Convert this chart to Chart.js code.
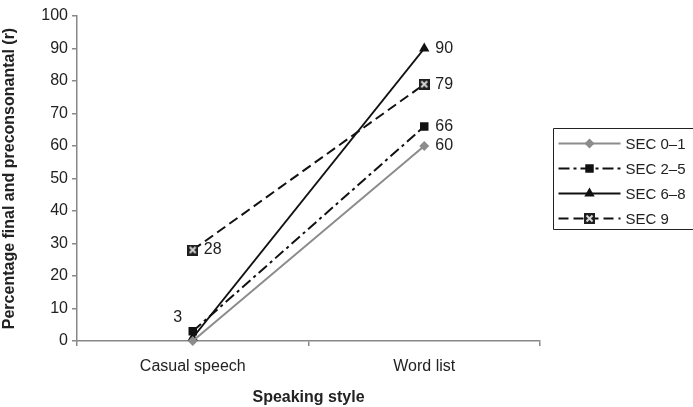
<!DOCTYPE html>
<html>
<head>
<meta charset="utf-8">
<script src="https://cdn.jsdelivr.net/npm/chart.js@4"></script>
<style>
  html, body { margin: 0; padding: 0; background: #fff; }
  #wrap { width: 693px; height: 407px; }
</style>
</head>
<body>
<div id="wrap"><canvas id="chart" width="693" height="407"></canvas></div>
<script>
// categories and series
const styles = ["Casual speech", "Word list"];
const seriesNames = ["SEC 0\u20131", "SEC 2\u20135", "SEC 6\u20138", "SEC 9"];
const sec01 = [0, 60];
const sec25 = [3, 66];
const sec68 = [1, 90];
const sec9 = [28, 79];
const yTicks = [0, 10, 20, 30, 40, 50, 60, 70, 80, 90, 100];

// which points carry a value label: [dataset, index, placement]
const valueLabels = [
  [1, 0, "left"], [3, 0, "right"],
  [0, 1, "right"], [1, 1, "right"], [2, 1, "right"], [3, 1, "right"]
];

const FONT = "'Liberation Sans', Arial, sans-serif";

// boxed-cross marker for SEC 9
function crossBox() {
  const c = document.createElement("canvas");
  c.width = 11; c.height = 11;
  const g = c.getContext("2d");
  g.fillStyle = "#1e1e1e";
  g.fillRect(0, 0, 11, 11);
  g.strokeStyle = "#d8d8d8";
  g.lineWidth = 2;
  g.beginPath();
  g.moveTo(2.5, 2.5); g.lineTo(8.5, 8.5);
  g.moveTo(8.5, 2.5); g.lineTo(2.5, 8.5);
  g.stroke();
  return c;
}
const crossImg = crossBox();

const datasets = [
  { label: seriesNames[0], data: sec01, borderColor: "#8c8c8c", backgroundColor: "#8c8c8c",
    borderWidth: 2, pointStyle: "rectRot", pointRadius: 5, borderDash: [] },
  { label: seriesNames[1], data: sec25, borderColor: "#111", backgroundColor: "#111",
    borderWidth: 2, pointStyle: "rect", pointRadius: 6, borderDash: [11, 4, 3, 4] },
  { label: seriesNames[2], data: sec68, borderColor: "#111", backgroundColor: "#111",
    borderWidth: 2, pointStyle: "triangle", pointRadius: 6, borderDash: [] },
  { label: seriesNames[3], data: sec9, borderColor: "#111", backgroundColor: "#111",
    borderWidth: 2, pointStyle: crossImg, pointRadius: 6, borderDash: [10, 5] }
];
datasets.forEach(d => { d.pointBorderWidth = 0; d.tension = 0; d.clip = false; });

// numbers beside the points
const labelPlugin = {
  id: "valueLabels",
  afterDatasetsDraw(chart) {
    const ctx = chart.ctx;
    ctx.save();
    ctx.font = "16px " + FONT;
    ctx.fillStyle = "#222";
    ctx.textBaseline = "middle";
    valueLabels.forEach(([di, pi, place]) => {
      const pt = chart.getDatasetMeta(di).data[pi];
      const v = chart.data.datasets[di].data[pi];
      if (place === "left") {
        ctx.textAlign = "center";
        ctx.fillText(String(v), pt.x - 15, pt.y - 14);
      } else {
        ctx.textAlign = "left";
        ctx.fillText(String(v), pt.x + 11, pt.y);
      }
    });
    ctx.restore();
  }
};

// legend frame runs off the right edge, so only three sides are drawn
const legendPlugin = {
  id: "boxLegend",
  afterDraw(chart) {
    const ctx = chart.ctx;
    const left = chart.chartArea.right + 13.5;
    const top = 128.5;
    const bottom = top + 101;
    const right = chart.width + 5;
    ctx.save();
    ctx.strokeStyle = "#222";
    ctx.lineWidth = 1;
    ctx.beginPath();
    ctx.moveTo(right, top);
    ctx.lineTo(left, top);
    ctx.lineTo(left, bottom);
    ctx.lineTo(right, bottom);
    ctx.stroke();
    chart.data.datasets.forEach((ds, i) => {
      const y = top + 15 + i * 25;
      ctx.strokeStyle = ds.borderColor;
      ctx.lineWidth = ds.borderWidth;
      ctx.setLineDash(ds.borderDash);
      ctx.beginPath();
      ctx.moveTo(left + 5, y);
      ctx.lineTo(left + 67, y);
      ctx.stroke();
      ctx.setLineDash([]);
      ctx.fillStyle = ds.backgroundColor;
      Chart.helpers.drawPoint(ctx, {
        pointStyle: ds.pointStyle, radius: ds.pointRadius, rotation: 0, borderWidth: 0
      }, left + 36, y);
      ctx.fillStyle = "#222";
      ctx.font = "15px " + FONT;
      ctx.textAlign = "left";
      ctx.textBaseline = "middle";
      ctx.fillText(ds.label, left + 72, y + 1);
    });
    ctx.restore();
  }
};

new Chart(document.getElementById("chart"), {
  type: "line",
  data: { labels: styles, datasets },
  plugins: [labelPlugin, legendPlugin],
  options: {
    responsive: false,
    animation: false,
    layout: { padding: { left: 0, top: 16, right: 153, bottom: 0 } },
    plugins: { legend: { display: false }, tooltip: { enabled: false } },
    scales: {
      x: {
        offset: true,
        grid: { offset: true, drawOnChartArea: false, tickLength: 5, color: "#888", lineWidth: 1.5 },
        border: { color: "#888", width: 1.5 },
        ticks: { color: "#222", font: { family: FONT, size: 16 }, padding: 11 },
        title: { display: true, text: "Speaking style", color: "#222",
                 font: { family: FONT, size: 16, weight: "bold" }, padding: { top: 6, bottom: 0 } },
        afterFit(scale) { scale.height = 66; }
      },
      y: {
        min: 0, max: 100,
        afterBuildTicks(scale) { scale.ticks = yTicks.map(v => ({ value: v })); },
        grid: { drawOnChartArea: false, tickLength: 5, color: "#888", lineWidth: 1.5 },
        border: { color: "#888", width: 1.5 },
        ticks: { color: "#222", font: { family: FONT, size: 16 }, padding: 4 },
        title: { display: true, text: "Percentage final and preconsonantal (r)", color: "#222",
                 font: { family: FONT, size: 16, weight: "bold" }, padding: { top: 0, bottom: 2 } },
        afterFit(scale) { scale.width = 77; }
      }
    }
  }
});
</script>
</body>
</html>
